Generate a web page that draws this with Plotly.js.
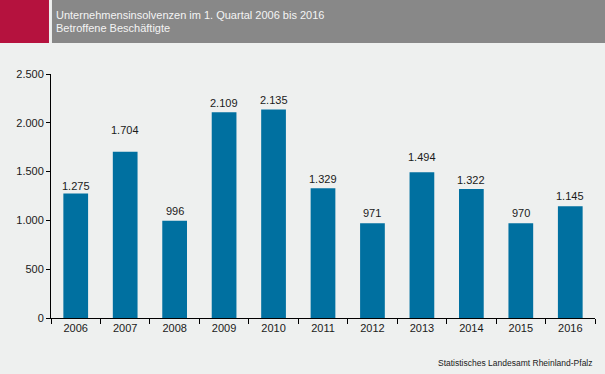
<!DOCTYPE html>
<html>
<head>
<meta charset="utf-8">
<script src="https://cdn.plot.ly/plotly-3.0.1.min.js"></script>
<style>html,body{margin:0;padding:0;background:#eef0ef;}#chart{width:605px;height:374px;}</style>
</head>
<body>
<div id="chart"></div>
<script>
const years = ["2006","2007","2008","2009","2010","2011","2012","2013","2014","2015","2016"];
const employees = [1275, 1704, 996, 2109, 2135, 1329, 971, 1494, 1322, 970, 1145];
const titleLine1 = "Unternehmensinsolvenzen im 1. Quartal 2006 bis 2016";
const titleLine2 = "Betroffene Beschäftigte";
const sourceText = "Statistisches Landesamt Rheinland-Pfalz";
// label gap above each bar in pixels (presentation only)
const labelGapPx = [8, 22, 10, 9, 10, 9, 10, 15, 9, 10, 10];

const font = "Arial, 'Liberation Sans', sans-serif";
const fmt = v => v.toString().replace(/\B(?=(\d{3})+(?!\d))/g, ".");

const trace = {
  type: "bar",
  x: years,
  y: employees,
  marker: {color: "#0070a0"},
  width: 0.5,
  hoverinfo: "x+y"
};

const labelAnnotations = years.map((yr, i) => ({
  xref: "x", yref: "y", x: i, y: employees[i],
  yanchor: "middle", xanchor: "center", yshift: labelGapPx[i],
  showarrow: false, text: fmt(employees[i]),
  font: {family: font, size: 11, color: "#1a1a1a"}
}));

const layout = {
  width: 605, height: 374,
  margin: {l: 51, r: 10, t: 74, b: 56},
  paper_bgcolor: "#eef0ef",
  plot_bgcolor: "#eef0ef",
  separators: ",.",
  showlegend: false,
  xaxis: {
    type: "category",
    categoryorder: "array", categoryarray: years,
    range: [-0.5, years.length - 0.5],
    showline: true, linecolor: "#000", linewidth: 1,
    ticks: "outside", ticklen: 5, tickcolor: "#000", tickson: "boundaries",
    tickfont: {family: font, size: 11, color: "#1a1a1a"},
    tickangle: 0,
    showgrid: false, zeroline: false, fixedrange: true
  },
  yaxis: {
    range: [0, 2500], dtick: 500, tick0: 0,
    tickformat: ",d",
    showline: true, linecolor: "#000", linewidth: 1,
    ticks: "outside", ticklen: 4, tickcolor: "#000",
    tickfont: {family: font, size: 11, color: "#1a1a1a"},
    showgrid: false, zeroline: false, fixedrange: true
  },
  shapes: [
    {type: "rect", xref: "paper", yref: "paper", x0: -0.094, x1: -0.0037, y0: 1.127, y1: 1.31, fillcolor: "#b5123e", line: {width: 0}, layer: "above"},
    {type: "rect", xref: "paper", yref: "paper", x0: 0.0018, x1: 1.02, y0: 1.127, y1: 1.31, fillcolor: "#888888", line: {width: 0}, layer: "above"}
  ],
  annotations: labelAnnotations.concat([
    {xref: "paper", yref: "paper", x: 0.0055, y: 1.2418, xanchor: "left", yanchor: "middle", showarrow: false,
     text: titleLine1, font: {family: font, size: 11, color: "#f4f4f4"}},
    {xref: "paper", yref: "paper", x: 0.0055, y: 1.1885, xanchor: "left", yanchor: "middle", showarrow: false,
     text: titleLine2, font: {family: font, size: 11, color: "#f4f4f4"}},
    {xref: "paper", yref: "paper", x: 1.0, y: -0.184, xanchor: "right", yanchor: "middle", showarrow: false,
     text: sourceText, font: {family: font, size: 8.5, color: "#1a1a1a"}}
  ])
};

Plotly.newPlot("chart", [trace], layout, {displayModeBar: false, staticPlot: true});
</script>
</body>
</html>
